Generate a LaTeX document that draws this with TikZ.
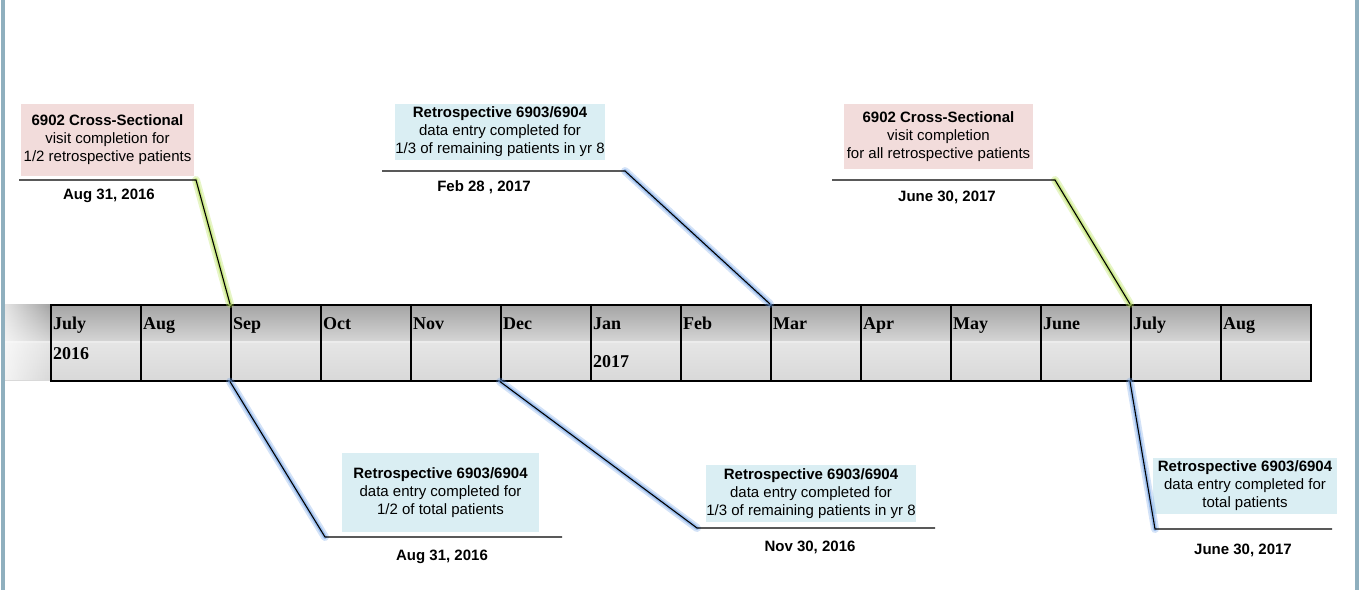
\documentclass[tikz,border=0pt]{standalone}
\usepackage{fontspec}
\setmainfont{Liberation Sans}
\newfontfamily\monthfont{Liberation Serif}
\usetikzlibrary{fadings}
\definecolor{pinkbox}{RGB}{242,220,219}
\definecolor{bluebox}{RGB}{218,238,243}
\definecolor{framec}{RGB}{143,175,190}
\definecolor{glowg}{RGB}{185,225,95}
\definecolor{glowb}{RGB}{110,160,230}
\tikzfading[name=fadewhite, left color=transparent!0, right color=transparent!100]
\begin{document}
\begin{tikzpicture}[x=1pt,y=-1pt,
  cell/.style={draw=black, line width=1.6pt, minimum width=90pt, minimum height=76pt, inner sep=0pt, anchor=north west},
  mon/.style={font=\monthfont\bfseries\fontsize{18}{21}\selectfont, anchor=base west, inner sep=0pt},
  info/.style={align=center, inner sep=0pt, font=\fontsize{15}{18}\selectfont},
  datel/.style={font=\bfseries\fontsize{15}{18}\selectfont, inner sep=0pt},
  conn/.style={line width=1.1pt, black},
  glowgreen/.style={glowg, line cap=round, postaction={draw, line width=8pt, opacity=0.35}, line width=4pt, opacity=0.6},
  glowblue/.style={glowb, line cap=round, postaction={draw, line width=8pt, opacity=0.3}, line width=4pt, opacity=0.55}]
\useasboundingbox (0,0) rectangle (1359,590);
% frame bars
\fill[framec] (1,0) rectangle (5,590);
\fill[framec] (1355,0) rectangle (1359,590);
% timeline background
\shade[top color=gray!72, bottom color=gray!32] (5,304) rectangle (1310,342);
\shade[top color=gray!20, bottom color=gray!30] (5,342) rectangle (1310,380);
\draw[white!85!gray, line width=1.2pt] (5,342) -- (1310,342);
\fill[white, path fading=fadewhite, opacity=0.7] (5,304) rectangle (50,380);
% cells
\foreach \i/\m in {1/July,2/Aug,3/Sep,4/Oct,5/Nov,6/Dec,7/Jan,8/Feb,9/Mar,10/Apr,11/May,12/June,13/July,14/Aug}{
  \node[cell] (m\i) at ({50+90*(\i-1)},304) {};
  \node[mon] (l\i) at ({53+90*(\i-1)},329) {\m};
}
\node[mon] (y2016) at (53,359) {2016};
\node[mon] (y2017) at (593,367) {2017};
% boxes
\node[info, fill=pinkbox, minimum width=173pt, minimum height=72pt] (b1) at (107.5,140)
  {\textbf{6902 Cross-Sectional}\\visit completion for\\1/2 retrospective patients};
\node[info, fill=bluebox, minimum width=210pt, minimum height=56pt] (b2) at (500,132)
  {\textbf{Retrospective 6903/6904}\\data entry completed for\\1/3 of remaining patients in yr 8};
\node[info, fill=pinkbox, minimum width=189pt, minimum height=65pt] (b3) at (938.5,136.5)
  {\textbf{6902 Cross-Sectional}\\visit completion\\for all retrospective patients};
\node[info, fill=bluebox, minimum width=197pt, minimum height=79pt] (b4) at (440.5,492.5)
  {\textbf{Retrospective 6903/6904}\\data entry completed for\\1/2 of total patients};
\node[info, fill=bluebox, minimum width=210pt, minimum height=57pt] (b5) at (811,493.5)
  {\textbf{Retrospective 6903/6904}\\data entry completed for\\1/3 of remaining patients in yr 8};
\node[info, fill=bluebox, minimum width=184pt, minimum height=56pt] (b6) at (1245,486)
  {\textbf{Retrospective 6903/6904}\\data entry completed for\\total patients};
% dates
\node[datel] (d1) at (109,196) {Aug 31, 2016};
\node[datel] (d2) at (484,187) {Feb 28 , 2017};
\node[datel] (d3) at (947,197) {June 30, 2017};
\node[datel] (d4) at (442,557) {Aug 31, 2016};
\node[datel] (d5) at (810,547) {Nov 30, 2016};
\node[datel] (d6) at (1243,550) {June 30, 2017};
% connector coordinates
\coordinate (e1) at (19,180);  \coordinate (k1) at (196,180);
\coordinate (e2) at (382,171); \coordinate (k2) at (625,171);
\coordinate (e3) at (832,180); \coordinate (k3) at (1055,180);
\coordinate (k4) at (325,537); \coordinate (e4) at (562,537);
\coordinate (k5) at (697,528); \coordinate (e5) at (935,528);
\coordinate (k6) at (1155,529); \coordinate (e6) at (1332,529);
% glows
\draw[glowgreen] (k1) -- (m3.north west);
\draw[glowblue] (k2) -- (m9.north west);
\draw[glowgreen] (k3) -- (m13.north west);
\draw[glowblue] (m3.south west) -- (k4);
\draw[glowblue] (m6.south west) -- (k5);
\draw[glowblue] (m13.south west) -- (k6);
% connectors
\draw[conn] (e1) -- (k1) -- (m3.north west);
\draw[conn] (e2) -- (k2) -- (m9.north west);
\draw[conn] (e3) -- (k3) -- (m13.north west);
\draw[conn] (m3.south west) -- (k4) -- (e4);
\draw[conn] (m6.south west) -- (k5) -- (e5);
\draw[conn] (m13.south west) -- (k6) -- (e6);
\end{tikzpicture}
\end{document}
